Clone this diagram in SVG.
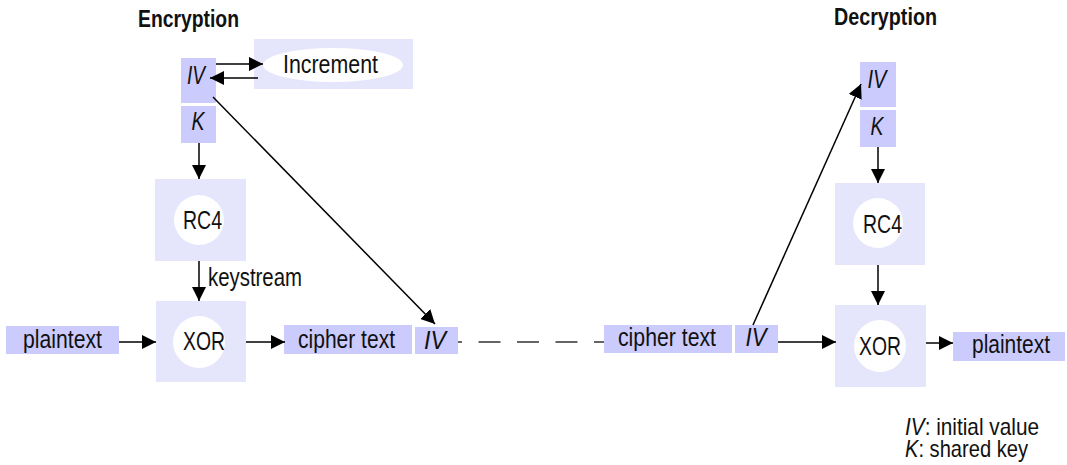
<svg xmlns="http://www.w3.org/2000/svg" width="1067" height="465" viewBox="0 0 1067 465">
<defs>
<style>
text{font-family:"Liberation Sans",Arial,sans-serif;fill:#111;font-size:26px}
.title{font-weight:bold;font-size:23px}
.it{font-style:italic}
.c{text-anchor:middle}
.dk{fill:#cbcbfd}
.lt{fill:#e5e5fb}
.wh{fill:#fff}
.ln{stroke:#000;stroke-width:1.5;fill:none}
.ar{marker-end:url(#ah)}
.leg{font-size:24px}
</style>
<marker id="ah" viewBox="0 0 14 14" refX="14" refY="7" markerWidth="14" markerHeight="14" markerUnits="userSpaceOnUse" orient="auto">
<path d="M0,0 L14,7 L0,14 z" fill="#000"/>
</marker>
</defs>
<rect width="1067" height="465" fill="#fff"/>

<text class="title" x="138" y="27" textLength="101" lengthAdjust="spacingAndGlyphs">Encryption</text>
<text class="title" x="834" y="25" textLength="103" lengthAdjust="spacingAndGlyphs">Decryption</text>

<g id="enc-iv"><rect class="dk" x="181" y="58" width="35" height="45"/><text class="it c" x="196" y="84" textLength="18" lengthAdjust="spacingAndGlyphs">IV</text></g>
<g id="enc-k"><rect class="dk" x="181" y="106" width="35" height="37"/><text class="it c" x="198" y="130" textLength="13" lengthAdjust="spacingAndGlyphs">K</text></g>
<g id="increment"><rect class="lt" x="254" y="39" width="159" height="50"/><ellipse class="wh" cx="333" cy="65" rx="70" ry="17"/><text class="c" x="330.5" y="73" textLength="95" lengthAdjust="spacingAndGlyphs">Increment</text></g>
<g id="enc-rc4"><rect class="lt" x="155" y="179" width="91" height="82"/><circle class="wh" cx="199" cy="220" r="25"/><text class="c" x="202.5" y="229" textLength="39" lengthAdjust="spacingAndGlyphs">RC4</text></g>
<g id="enc-xor"><rect class="lt" x="156" y="301" width="90" height="81"/><circle class="wh" cx="199" cy="342" r="26"/><text class="c" x="204" y="350" textLength="42" lengthAdjust="spacingAndGlyphs">XOR</text></g>
<g id="enc-plain"><rect class="dk" x="6" y="326" width="113" height="28"/><text class="c" x="62.5" y="348" textLength="79" lengthAdjust="spacingAndGlyphs">plaintext</text></g>
<g id="enc-cipher"><rect class="dk" x="284" y="325" width="128" height="29"/><text class="c" x="346.5" y="348" textLength="97" lengthAdjust="spacingAndGlyphs">cipher text</text></g>
<g id="enc-civ"><rect class="dk" x="415" y="327" width="43" height="27"/><text class="it c" x="435" y="349" textLength="22" lengthAdjust="spacingAndGlyphs">IV</text></g>

<g id="dec-iv"><rect class="dk" x="860" y="62" width="36" height="45"/><text class="it c" x="877" y="88" textLength="19" lengthAdjust="spacingAndGlyphs">IV</text></g>
<g id="dec-k"><rect class="dk" x="860" y="110" width="36" height="37"/><text class="it c" x="877" y="135" textLength="13" lengthAdjust="spacingAndGlyphs">K</text></g>
<g id="dec-rc4"><rect class="lt" x="835" y="183" width="90" height="82"/><circle class="wh" cx="878" cy="223" r="25"/><text class="c" x="882.5" y="233" textLength="39" lengthAdjust="spacingAndGlyphs">RC4</text></g>
<g id="dec-xor"><rect class="lt" x="835" y="305" width="91" height="82"/><circle class="wh" cx="880" cy="346" r="26"/><text class="c" x="880" y="355" textLength="42" lengthAdjust="spacingAndGlyphs">XOR</text></g>
<g id="dec-cipher"><rect class="dk" x="604" y="325" width="128" height="28"/><text class="c" x="667" y="346" textLength="98" lengthAdjust="spacingAndGlyphs">cipher text</text></g>
<g id="dec-civ"><rect class="dk" x="735" y="325" width="43" height="28"/><text class="it c" x="756" y="346" textLength="21" lengthAdjust="spacingAndGlyphs">IV</text></g>
<g id="dec-plain"><rect class="dk" x="953" y="332" width="112" height="29"/><text class="c" x="1011" y="353" textLength="78" lengthAdjust="spacingAndGlyphs">plaintext</text></g>

<g id="connectors">
<line class="ln ar" x1="216" y1="64" x2="263" y2="64"/>
<line class="ln ar" x1="258" y1="78" x2="210" y2="78"/>
<line class="ln ar" x1="199" y1="143" x2="199" y2="179"/>
<line class="ln ar" x1="199" y1="261" x2="199" y2="301"/>
<text x="208" y="286" textLength="94" lengthAdjust="spacingAndGlyphs">keystream</text>
<line class="ln ar" x1="119" y1="342" x2="156" y2="342"/>
<line class="ln ar" x1="246" y1="342" x2="285" y2="342"/>
<line class="ln ar" x1="213" y1="97" x2="435" y2="324"/>
<line x1="458" y1="342" x2="604" y2="342" stroke="#333" stroke-width="1.5" stroke-dasharray="22 16.5" stroke-dashoffset="18"/>
<line class="ln ar" x1="753" y1="325" x2="861" y2="84"/>
<line class="ln ar" x1="778" y1="342" x2="836" y2="342"/>
<line class="ln ar" x1="878" y1="147" x2="878" y2="183"/>
<line class="ln ar" x1="878" y1="265" x2="878" y2="305"/>
<line class="ln ar" x1="926" y1="343" x2="953" y2="343"/>
</g>

<g id="legend">
<text class="leg" x="905" y="435" textLength="134" lengthAdjust="spacingAndGlyphs"><tspan class="it">IV</tspan>: initial value</text>
<text class="leg" x="905" y="457" textLength="123" lengthAdjust="spacingAndGlyphs"><tspan class="it">K</tspan>: shared key</text>
</g>
</svg>
